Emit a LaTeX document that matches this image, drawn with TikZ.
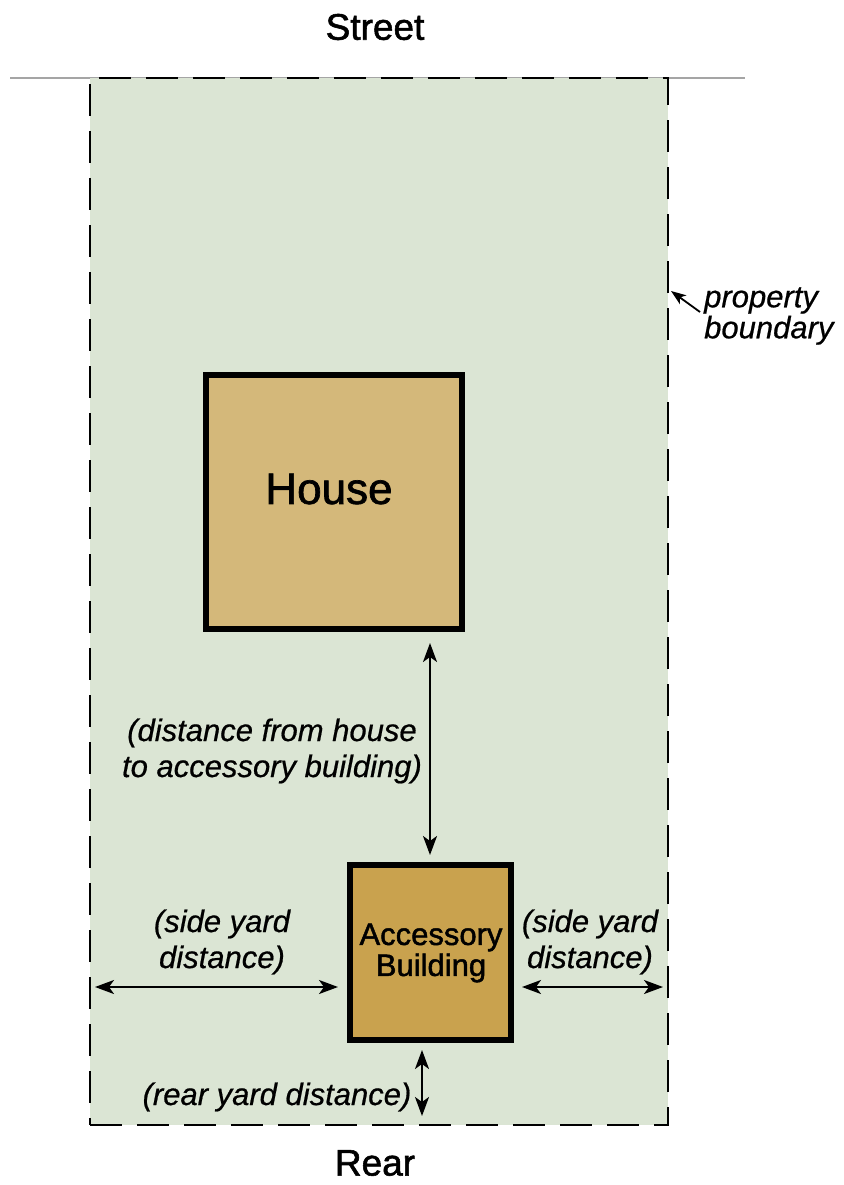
\documentclass[tikz,border=0pt]{standalone}
\usepackage{fontspec}
\setmainfont{Liberation Sans}[FakeBold=0.6]
\newfontfamily\titlefont{Liberation Sans}[FakeBold=1.5]
\usetikzlibrary{arrows.meta}
\definecolor{lotgreen}{RGB}{219,229,212}
\definecolor{housetan}{RGB}{212,184,122}
\definecolor{accgold}{RGB}{201,162,78}
\definecolor{streetgray}{RGB}{165,165,165}
\begin{document}
\begin{tikzpicture}[x=1pt,y=-1pt,
  lot/.style={draw=black, fill=lotgreen, line width=2.4pt, dash pattern=on 32pt off 15pt, inner sep=0pt, outer sep=0pt},
  building/.style={draw=black, line width=6pt, inner sep=0pt, outer sep=0pt},
  dimarrow/.style={line width=2pt, {Stealth[length=19pt,width=14pt,inset=5pt]}-{Stealth[length=19pt,width=14pt,inset=5pt]}},
  label/.style={font=\fontsize{31}{36}\selectfont\itshape, align=center, inner sep=0pt},
  title/.style={font=\titlefont\fontsize{37}{44}\selectfont, inner sep=0pt}
]
\useasboundingbox (0,0) rectangle (843,1185);
% street line
\coordinate (sl) at (10,78);
\coordinate (sr) at (745,78);
\draw[streetgray, line width=2pt] (sl) -- (sr);
% lot
\node[lot, minimum width=578pt, minimum height=1047pt] (lot) at (379,601.5) {};
% buildings
\node[building, fill=housetan, minimum width=256pt, minimum height=254pt] (house) at (334,502) {};
\node[font=\titlefont\fontsize{44}{50}\selectfont, inner sep=0pt] (housetxt) at (329,489) {House};
\node[building, fill=accgold, minimum width=161pt, minimum height=175pt] (acc) at (430.5,952.5) {};
\node[font=\titlefont\fontsize{31}{31}\selectfont, align=center, inner sep=0pt] (acctxt) at (431,953) {Accessory\\Building};
% titles
\node[title] (street) at (375,27) {Street};
\node[title] (rear) at (375,1163) {Rear};
% distance house -> accessory
\coordinate (d1) at (430,643);
\coordinate (d2) at (430,855);
\draw[dimarrow] (d1) -- (d2);
\node[label] (dlbl) at (272,751) {(distance from house\\to accessory building)};
% side yards
\coordinate (sl1) at (95,987);
\coordinate (sl2) at (338,987);
\draw[dimarrow] (sl1) -- (sl2);
\node[label] (slbl) at (222,942) {(side yard\\distance)};
\coordinate (sr1) at (522,987);
\coordinate (sr2) at (663,987);
\draw[dimarrow] (sr1) -- (sr2);
\node[label] (srlbl) at (590,942) {(side yard\\distance)};
% rear yard
\coordinate (r1) at (422,1050);
\coordinate (r2) at (422,1116);
\draw[dimarrow] (r1) -- (r2);
\node[label] (rlbl) at (277,1097) {(rear yard distance)};
% property boundary
\node[label, align=left, anchor=west, font=\fontsize{31}{31}\selectfont\itshape] (pb) at (704,316) {property\\boundary};
\coordinate (pbtail) at (700,312);
\coordinate (pbtip) at (671,291);
\draw[line width=1.8pt, -{Stealth[length=15pt,width=11pt,inset=4pt]}] (pbtail) -- (pbtip);
\end{tikzpicture}
\end{document}
